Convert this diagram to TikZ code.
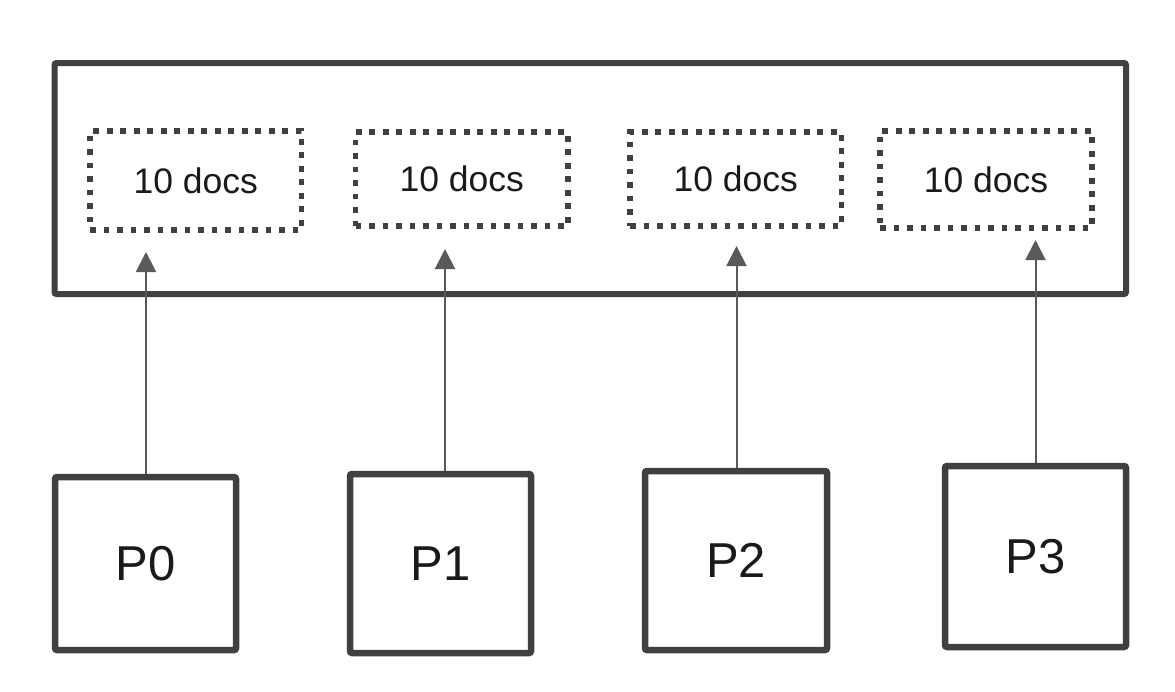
\documentclass[tikz,border=0pt]{standalone}
\usepackage{fontspec}
\setmainfont{Liberation Sans}
\usetikzlibrary{arrows.meta}
\definecolor{boxline}{HTML}{404040}
\definecolor{arrline}{HTML}{5A5A5A}
\definecolor{txt}{HTML}{1A1A1A}
\tikzset{
  outerbox/.style={draw=boxline, line width=6pt, rounded corners=2pt, inner sep=0pt},
  docbox/.style={draw=boxline, line width=5.5pt, dash pattern=on 5.8pt off 7.7pt, inner sep=0pt,
    font=\fontsize{35.5}{42}\selectfont, text=txt},
  pbox/.style={draw=boxline, line width=6.5pt, rounded corners=2pt, inner sep=0pt,
    font=\fontsize{49}{56}\selectfont, text=txt},
  uparrow/.style={draw=arrline, line width=2pt, -{Triangle[length=20pt,width=20pt]}}
}
\begin{document}
\begin{tikzpicture}[x=1pt,y=-1pt]
\useasboundingbox (0,0) rectangle (1175,691);
% outer container
\node[outerbox, minimum width=1071.5pt, minimum height=231pt] (outer) at (590.25,178.5) {};
% dotted doc boxes
\node[docbox, minimum width=211.5pt, minimum height=99pt] (d0) at (195.75,180.5) {10 docs};
\node[docbox, minimum width=212.5pt, minimum height=94pt] (d1) at (461.75,179) {10 docs};
\node[docbox, minimum width=211.5pt, minimum height=94pt] (d2) at (735.75,179) {10 docs};
\node[docbox, minimum width=212pt, minimum height=97pt] (d3) at (986,179.5) {10 docs};
% partition boxes
\node[pbox, minimum width=181pt, minimum height=173pt] (p0) at (145.5,563.5) {P0};
\node[pbox, minimum width=181pt, minimum height=179pt] (p1) at (440.5,563.5) {P1};
\node[pbox, minimum width=182pt, minimum height=179pt] (p2) at (736,560.5) {P2};
\node[pbox, minimum width=181pt, minimum height=181pt] (p3) at (1035.5,556.5) {P3};
% arrow tips
\coordinate (t0) at (146,252);
\coordinate (t1) at (445,249);
\coordinate (t2) at (736.5,246);
\coordinate (t3) at (1035.5,240);
\draw[uparrow] (t0 |- p0.north) -- (t0);
\draw[uparrow] (t1 |- p1.north) -- (t1);
\draw[uparrow] (t2 |- p2.north) -- (t2);
\draw[uparrow] (t3 |- p3.north) -- (t3);
\end{tikzpicture}
\end{document}
